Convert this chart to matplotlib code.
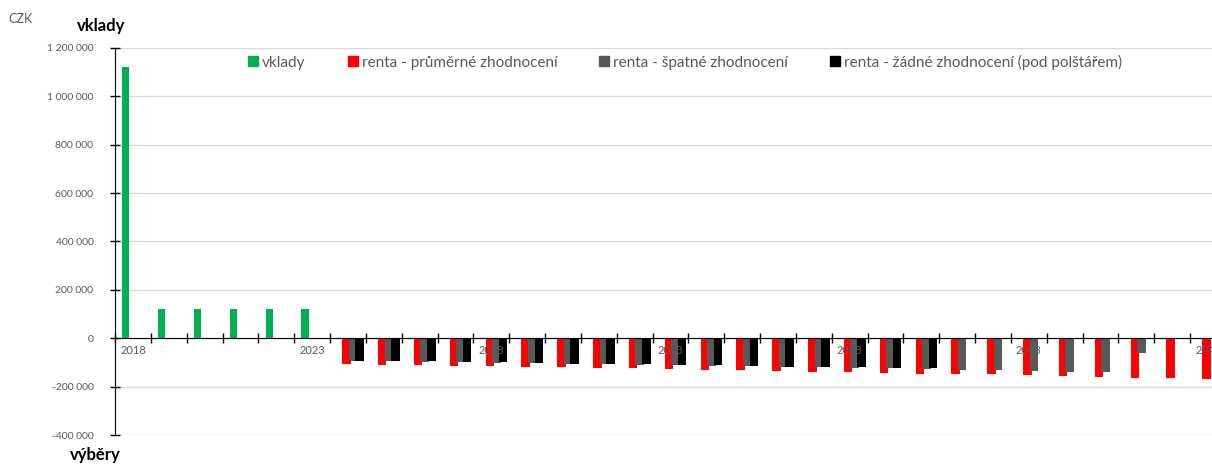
import matplotlib.pyplot as plt
import numpy as np
from matplotlib.patches import Patch
from matplotlib.ticker import FixedLocator, FuncFormatter

# Categories (one per year)
years = np.arange(2018, 2049)
label_years = [2018, 2023, 2028, 2033, 2038, 2043, 2048]

# Deposits
deposit_years = [2018, 2019, 2020, 2021, 2022, 2023]
deposits = [1120000, 120000, 120000, 120000, 120000, 120000]

# Annuity - average appreciation
avg_years = np.arange(2024, 2049)
rent_avg = [
    -106000, -108000, -110000, -112000, -115000, -117000, -120000, -122000,
    -124000, -127000, -129000, -131000, -134000, -137000, -139000, -142000,
    -145000, -147000, -149000, -153000, -155000, -159000, -162000, -165000,
    -168000,
]

# Annuity - poor appreciation
bad_years = np.arange(2024, 2047)
rent_bad = [
    -92000, -94000, -96000, -98000, -100000, -103000, -105000, -107000,
    -109000, -111000, -113000, -115000, -117000, -120000, -121000, -124000,
    -127000, -129000, -132000, -134000, -137000, -139000, -61000,
]

# Annuity - no appreciation (under the pillow)
zero_years = np.arange(2024, 2041)
rent_zero = [
    -92000, -93000, -95000, -97000, -99000, -101000, -104000, -105000,
    -107000, -109000, -111000, -113000, -116000, -117000, -120000, -121000,
    -121000,
]

labels = [
    "vklady",
    "renta - průměrné zhodnocení",
    "renta - špatné zhodnocení",
    "renta - žádné zhodnocení (pod polštářem)",
]

# Colours
c_green = "#00B050"
c_red = "#FF0000"
c_gray = "#595959"
c_black = "#000000"
c_text = "#595959"
c_grid = "#D9D9D9"

plt.rcParams["font.family"] = ["Lato", "DejaVu Sans"]

W, H = 1212, 465
fig = plt.figure(figsize=(W / 100, H / 100), dpi=100)
fig.patch.set_facecolor("white")

# Axes run slightly past the right edge of the picture (cut like the original)
ax = fig.add_axes([115 / W, (H - 435.3) / H, 1111 / W, 387.6 / H])

x0 = years[0]
bw = 0.237
ax.bar(np.array(deposit_years) - x0 + 0.30, deposits, width=0.20,
       color=c_green, zorder=2)
ax.bar(avg_years - x0 + 0.457, rent_avg, width=bw, color=c_red, zorder=2)
ax.bar(bad_years - x0 + 0.64, rent_bad, width=bw, color=c_gray, zorder=2)
ax.bar(zero_years - x0 + 0.825, rent_zero, width=bw, color=c_black, zorder=2)

ax.set_xlim(0, len(years))
ax.set_ylim(-400000, 1200000)

# Spines
for s in ["top", "right"]:
    ax.spines[s].set_visible(False)
ax.spines["bottom"].set_position(("data", 0))
ax.spines["bottom"].set_zorder(3)
ax.spines["left"].set_color(c_black)
ax.spines["bottom"].set_color(c_black)

# Y axis
ax.yaxis.set_major_locator(FixedLocator(np.arange(-400000, 1200001, 200000)))
ax.yaxis.set_major_formatter(
    FuncFormatter(lambda v, p: f"{v:,.0f}".replace(",", " "))
)
ax.tick_params(axis="y", direction="inout", length=7, width=1,
               color=c_black, labelcolor=c_text, labelsize=7.5, pad=12)
ax.grid(axis="y", color=c_grid, linewidth=1, zorder=0)
ax.set_axisbelow(True)

# X axis: ticks on category boundaries, labels every 5 years
ax.xaxis.set_major_locator(FixedLocator(np.arange(0, len(years) + 1)))
ax.xaxis.set_major_formatter(FuncFormatter(lambda v, p: ""))
ax.set_xticks([y - x0 + 0.5 for y in label_years], minor=True)
ax.set_xticklabels([str(y) for y in label_years], minor=True)
ax.tick_params(axis="x", which="major", direction="inout", length=7,
               width=1, color=c_black)
ax.tick_params(axis="x", which="minor", length=0, labelcolor=c_text,
               labelsize=8, pad=5)
# year labels sit on top of the bars
ax.xaxis.set_zorder(3)

# Legend
handles = [
    Patch(color=c_green),
    Patch(color=c_red),
    Patch(color=c_gray),
    Patch(color=c_black),
]
fs = 11
fs_px = fs * 100 / 72
fig.legend(
    handles, labels, loc="center left",
    bbox_to_anchor=(248 / W, 1 - 62 / H),
    ncol=4, frameon=False, fontsize=fs, labelcolor=c_text,
    handlelength=10 / fs_px, handleheight=10 / fs_px,
    handletextpad=4 / fs_px, columnspacing=42 / fs_px,
    borderpad=0, borderaxespad=0,
)

# Axis titles
fig.text(8 / W, 1 - 19 / H, "CZK", fontsize=9, color=c_text, va="center")
fig.text(77 / W, 1 - 26 / H, "vklady", fontsize=12, fontweight="bold",
         color="#000000", va="center")
fig.text(70 / W, 1 - 455 / H, "výběry", fontsize=12, fontweight="bold",
         color="#000000", va="center")

fig.savefig("out.png", dpi=100)
